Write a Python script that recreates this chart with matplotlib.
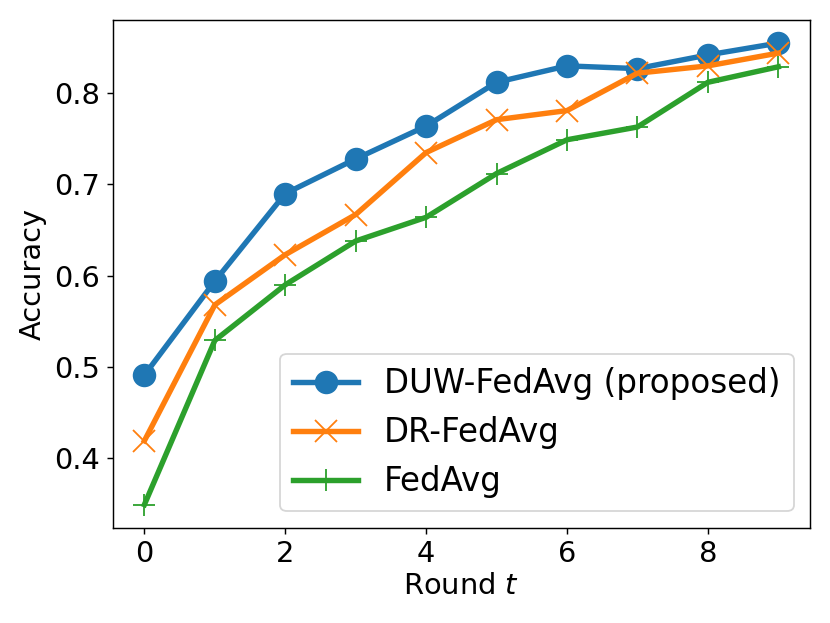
import numpy as np
import matplotlib
matplotlib.use("Agg")
import matplotlib.pyplot as plt

rounds = list(range(10))
duw_fedavg = [0.491, 0.594, 0.690, 0.728, 0.764, 0.812, 0.830, 0.827, 0.842, 0.855]
dr_fedavg = [0.419, 0.568, 0.623, 0.667, 0.735, 0.771, 0.781, 0.822, 0.830, 0.844]
fedavg = [0.349, 0.529, 0.590, 0.638, 0.664, 0.712, 0.749, 0.763, 0.812, 0.829]

plt.rcParams['font.size'] = 16

fig = plt.figure(figsize=(830 / 130, 623 / 130), dpi=130)
ax = fig.add_axes([112.7 / 830, 95.3 / 623, 697.3 / 830, 507.7 / 623])
ax.plot(rounds, duw_fedavg, marker='o', markersize=12, linewidth=3, label="DUW-FedAvg (proposed)")
ax.plot(rounds, dr_fedavg, marker='x', markersize=12, linewidth=3, label="DR-FedAvg")
ax.plot(rounds, fedavg, marker='+', markersize=12, linewidth=3, label="FedAvg")

ax.set_xlabel("Round $t$", labelpad=2)
ax.set_ylabel("Accuracy")
ax.legend(loc="lower right", fontsize=18)

fig.savefig("out.png", dpi=130)
